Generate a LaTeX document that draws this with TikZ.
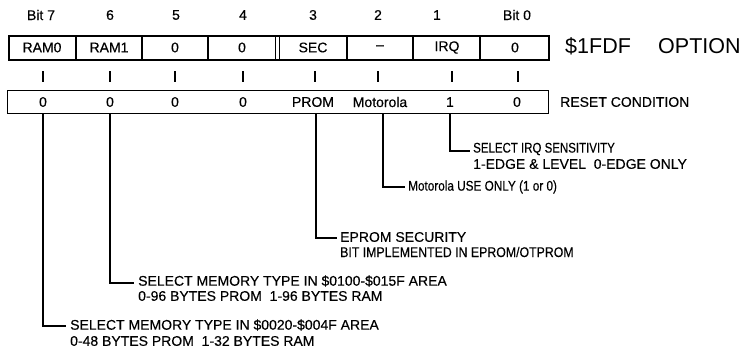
\documentclass[tikz,border=0pt]{standalone}
\usepackage{graphicx}
\usepackage{fontspec}
\setmainfont{Liberation Sans}
\newfontfamily\cndf[FakeBold=0.3]{Liberation Sans}
\newcommand{\nrw}[2]{\scalebox{#1}[1]{#2}}
\tikzset{
  lbl/.style={font=\cndf\fontsize{14}{16}\selectfont, inner sep=0pt},
  ann/.style={lbl, anchor=west},
  sep/.style={line width=1.4pt},
  tickl/.style={line width=1.2pt},
  lead/.style={line width=1.1pt},
  bigt/.style={font=\fontsize{21.5}{24}\selectfont, inner sep=0pt, anchor=west},
}
\begin{document}
\begin{tikzpicture}[x=1pt,y=-1pt]
\useasboundingbox (0,0) rectangle (746,356);
% bit numbers
\node[lbl] (b7) at (41,15) {Bit 7};
\node[lbl] (b6) at (110,15) {6};
\node[lbl] (b5) at (176,15) {5};
\node[lbl] (b4) at (243,15) {4};
\node[lbl] (b3) at (313,15) {3};
\node[lbl] (b2) at (378,15) {2};
\node[lbl] (b1) at (437,15) {1};
\node[lbl] (b0) at (517,15) {Bit 0};
% register
\node[draw, line width=1.8pt, minimum width=540pt, minimum height=24pt, inner sep=0pt, anchor=north west] (reg) at (8,35) {};
\foreach \x in {76,142,208,347,413,480} \draw[sep] (\x,35) -- (\x,59);
\draw[line width=1pt] (275,35) -- (275,59);
\draw[line width=1pt] (279.5,35) -- (279.5,59);
\node[lbl] (c7) at (42,47.5) {RAM0};
\node[lbl] (c6) at (109,47.5) {RAM1};
\node[lbl] (c5) at (175,47.5) {0};
\node[lbl] (c4) at (242,47.5) {0};
\node[lbl] (c3) at (313,47.5) {SEC};
\node[lbl] (c2) at (380,47.5) {\textendash};
\node[lbl] (c1) at (447,47.5) {IRQ};
\node[lbl] (c0) at (515,47.5) {0};
\node[bigt] (addr) at (565,46) {\$1FDF};
\node[bigt] (opt) at (658,46) {OPTION};
% ticks
\foreach \x in {43,110,175,243,315,378,452,518} \draw[tickl] (\x,71) -- (\x,82);
% reset
\node[draw, line width=1pt, minimum width=541pt, minimum height=23pt, inner sep=0pt, anchor=north west] (rst) at (7,90) {};
\node[lbl] (r7) at (43,102) {0};
\node[lbl] (r6) at (110,102) {0};
\node[lbl] (r5) at (175,102) {0};
\node[lbl] (r4) at (243,102) {0};
\node[lbl] (r3) at (313,102) {PROM};
\node[lbl] (r2) at (380,102) {Motorola};
\node[lbl] (r1) at (450,102) {1};
\node[lbl] (r0) at (517,102) {0};
\node[lbl, anchor=west] (rc) at (560,102) {RESET CONDITION};
% annotations
\node[ann] (a1) at (473,149) {\nrw{0.82}{SELECT IRQ SENSITIVITY}};
\node[ann] (a1b) at (473,164) {1-EDGE \& LEVEL\ \ 0-EDGE ONLY};
\node[ann] (a2) at (408,187) {\nrw{0.84}{Motorola USE ONLY (1 or 0)}};
\node[ann] (a3) at (340,237) {EPROM SECURITY};
\node[ann] (a3b) at (340,252) {\nrw{0.88}{BIT IMPLEMENTED IN EPROM/OTPROM}};
\node[ann] (a6) at (138,281) {SELECT MEMORY TYPE IN \$0100-\$015F AREA};
\node[ann] (a6b) at (138,296) {0-96 BYTES PROM\ \ 1-96 BYTES RAM};
\node[ann] (a7) at (70,325) {SELECT MEMORY TYPE IN \$0020-\$004F AREA};
\node[ann] (a7b) at (70,341) {0-48 BYTES PROM\ \ 1-32 BYTES RAM};
% leaders
\coordinate (l1) at (450,113);
\coordinate (l2) at (383,113);
\coordinate (l3) at (316,113);
\coordinate (l6) at (110,113);
\coordinate (l7) at (43,113);
\draw[lead] (l1) |- ([xshift=-3pt,yshift=-2pt]a1.west);
\draw[lead] (l2) |- ([xshift=-3pt]a2.west);
\draw[lead] (l3) |- ([xshift=-3pt,yshift=-1pt]a3.west);
\draw[lead] (l6) |- ([xshift=-4pt,yshift=-2pt]a6.west);
\draw[lead] (l7) |- ([xshift=-4pt,yshift=-1pt]a7.west);
\end{tikzpicture}
\end{document}
